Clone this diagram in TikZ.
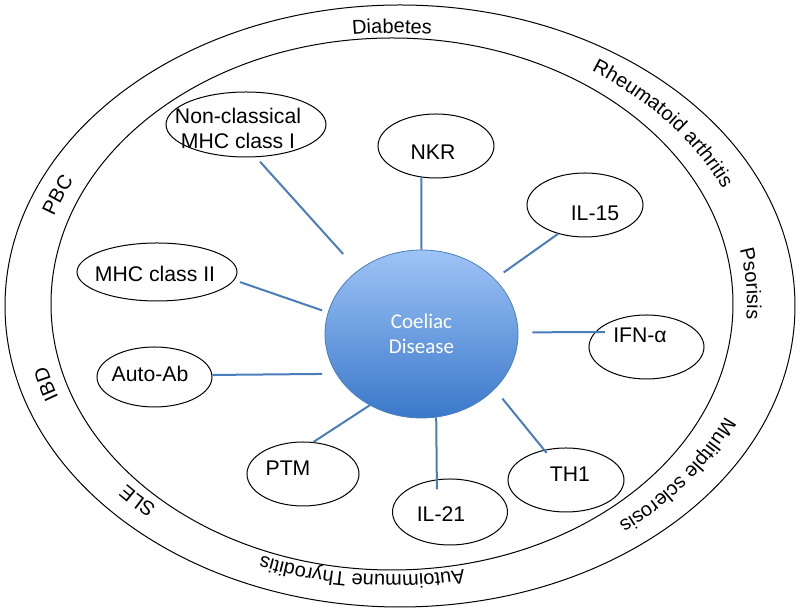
\documentclass[tikz,border=0pt]{standalone}
\usepackage{fontspec}
\setmainfont{Liberation Sans}
\newfontfamily\calibri{Carlito}
\usetikzlibrary{shapes.geometric,decorations.text}

\definecolor{linkblue}{RGB}{74,126,187}
\definecolor{hubtop}{RGB}{158,196,246}
\definecolor{hubbottom}{RGB}{58,120,202}

\newcommand\ringsize{\fontsize{10}{12}\selectfont}
% label set along the outer ring: angle, push outwards, text
\newcommand\ringlabel[3]{%
  \path[decorate, decoration={text along path, text align=center, text={|\ringsize|#3}}]
    ([shift={(#1+22:355+#2 and 271+#2)}]392,-304) arc[start angle=#1+22, end angle=#1-22, x radius=355+#2, y radius=271+#2];}

\tikzset{
  bubble/.style={draw, ellipse, inner sep=0pt, line width=0.5pt},
  lbl/.style={font=\fontsize{10.6}{12.5}\selectfont, align=center, inner sep=0pt},
  link/.style={draw=linkblue, line width=1pt},
  hub/.style={ellipse, draw=linkblue, line width=0.4pt, top color=hubtop, bottom color=hubbottom,
    text=white, font=\calibri\fontsize{10.5}{12.5}\selectfont, align=center, inner sep=0pt,
    minimum width=96.5pt, minimum height=84pt},
  ring/.style={draw, line width=0.5pt}
}

\begin{document}
\begin{tikzpicture}[x=0.5pt, y=0.5pt]
            \useasboundingbox (0,0) rectangle (800,-613);

            % Outer rings
            \draw[ring] (400,-306) ellipse[x radius=395, y radius=301];
            \draw[ring] (392,-304) ellipse[x radius=341, y radius=266];

            % Ring labels
            \ringlabel{90}{0}{Diabetes}
            \ringlabel{40}{8}{Rheumatoid arthritis}
            \ringlabel{4}{0}{Psorisis}
            \ringlabel{-37}{9}{Mulitple sclerosis}
            \ringlabel{-95}{0}{Autoimmune Thyroditis}
            \ringlabel{-136}{0}{SLE}
            \ringlabel{-164}{0}{IBD}
            \ringlabel{158}{2}{PBC}

            % Centre node
            \node[hub] (cd) at (421.5,-334) {Coeliac\\Disease};

            % Upper nodes
            \node[bubble, minimum width=80pt, minimum height=32.5pt] (ncm) at (246,-124.5) {};
            \node[lbl] (ncm-text) at (238,-128.5) {Non-classical\\MHC class I};
            \draw[link, shorten <=3pt, shorten >=11pt] (ncm.-73) -- (cd.135);

            \node[bubble, minimum width=58pt, minimum height=32pt] (nkr) at (436,-146) {};
            \node[lbl] (nkr-text) at (433,-152) {NKR};
            \draw[link] (nkr.-115) -- (cd.north);

            \node[bubble, minimum width=58pt, minimum height=32pt] (il15) at (585,-205) {};
            \node[lbl] (il15-text) at (595,-213) {IL-15};
            \draw[link, shorten >=5.5pt] (il15.-133) -- (cd.37);

            % Left nodes
            \node[bubble, minimum width=80pt, minimum height=29pt] (mhc2) at (157,-272) {};
            \node[lbl] (mhc2-text) at (155,-274) {MHC class II};
            \draw[link, shorten <=3pt, shorten >=3pt] (mhc2.-6) -- (cd.167);

            \node[bubble, minimum width=57.5pt, minimum height=30pt] (autoab) at (154.5,-377) {};
            \node[lbl] (autoab-text) at (150,-374) {Auto-Ab};
            \draw[link, shorten >=7pt] (autoab.2) -- (cd.-155);

            % Right nodes
            \node[bubble, minimum width=57.5pt, minimum height=32pt] (ifn) at (646.5,-347) {};
            \node[lbl] (ifn-text) at (640,-335) {IFN-α};
            \draw[link, shorten <=-5pt, shorten >=7pt] (ifn.164) -- (cd.1);

            \node[bubble, minimum width=58pt, minimum height=32pt] (th1) at (566,-480) {};
            \node[lbl] (th1-text) at (570,-474) {TH1};
            \draw[link, shorten <=-2pt, shorten >=6pt] (th1.126) -- (cd.-37);

            % Lower nodes
            \node[bubble, minimum width=56pt, minimum height=32pt] (ptm) at (303,-474) {};
            \node[lbl] (ptm-text) at (288,-468) {PTM};
            \draw[link] (ptm.72) -- (cd.-126);

            \node[bubble, minimum width=57.5pt, minimum height=33pt] (il21) at (450,-512) {};
            \node[lbl] (il21-text) at (441,-514) {IL-21};
            \draw[link, shorten <=-5pt] (il21.112) -- (cd.-80);
\end{tikzpicture}
\end{document}
